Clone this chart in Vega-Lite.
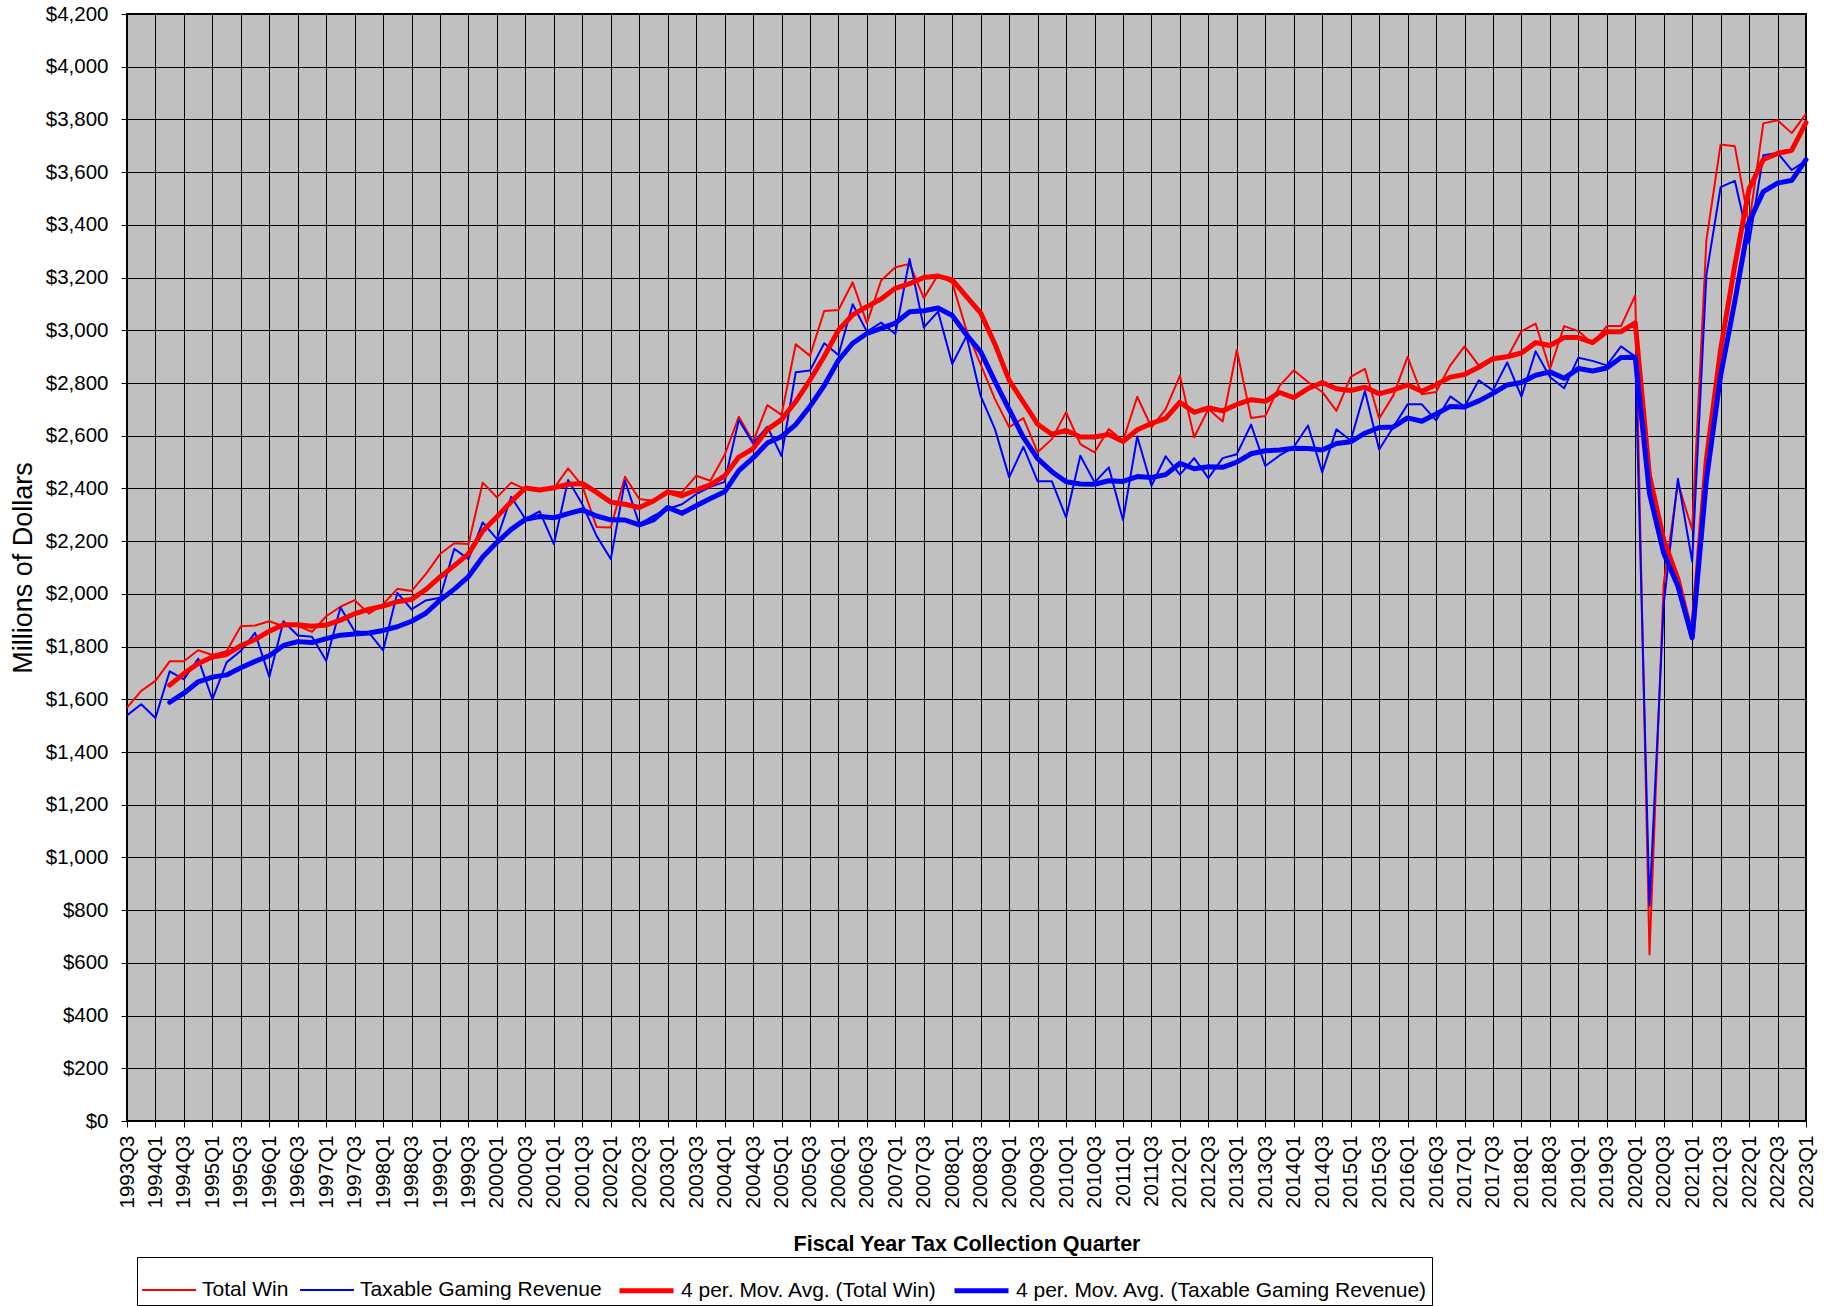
{
  "$schema": "https://vega.github.io/schema/vega-lite/v6.json",
  "width": 1679,
  "height": 1107,
  "autosize": {"type": "none"},
  "padding": {"left": 127, "top": 14, "right": 23, "bottom": 185},
  "background": "#FFFFFF",
  "data": {
    "values": [
      {"q": "1993Q3", "win": 1568, "tgr": 1539},
      {"q": "1993Q4", "win": 1632, "tgr": 1581},
      {"q": "1994Q1", "win": 1670, "tgr": 1529},
      {"q": "1994Q2", "win": 1744, "tgr": 1706},
      {"q": "1994Q3", "win": 1744, "tgr": 1676},
      {"q": "1994Q4", "win": 1786, "tgr": 1754},
      {"q": "1995Q1", "win": 1768, "tgr": 1600},
      {"q": "1995Q2", "win": 1782, "tgr": 1740},
      {"q": "1995Q3", "win": 1877, "tgr": 1784},
      {"q": "1995Q4", "win": 1880, "tgr": 1852},
      {"q": "1996Q1", "win": 1896, "tgr": 1685},
      {"q": "1996Q2", "win": 1877, "tgr": 1896},
      {"q": "1996Q3", "win": 1879, "tgr": 1842},
      {"q": "1996Q4", "win": 1856, "tgr": 1837},
      {"q": "1997Q1", "win": 1915, "tgr": 1746},
      {"q": "1997Q2", "win": 1951, "tgr": 1948},
      {"q": "1997Q3", "win": 1976, "tgr": 1858},
      {"q": "1997Q4", "win": 1925, "tgr": 1853},
      {"q": "1998Q1", "win": 1961, "tgr": 1786},
      {"q": "1998Q2", "win": 2019, "tgr": 2004},
      {"q": "1998Q3", "win": 2011, "tgr": 1941},
      {"q": "1998Q4", "win": 2075, "tgr": 1975},
      {"q": "1999Q1", "win": 2151, "tgr": 1985},
      {"q": "1999Q2", "win": 2192, "tgr": 2171},
      {"q": "1999Q3", "win": 2189, "tgr": 2132},
      {"q": "1999Q4", "win": 2422, "tgr": 2271},
      {"q": "2000Q1", "win": 2366, "tgr": 2208},
      {"q": "2000Q2", "win": 2422, "tgr": 2368},
      {"q": "2000Q3", "win": 2397, "tgr": 2284},
      {"q": "2000Q4", "win": 2390, "tgr": 2313},
      {"q": "2001Q1", "win": 2400, "tgr": 2189},
      {"q": "2001Q2", "win": 2476, "tgr": 2432},
      {"q": "2001Q3", "win": 2410, "tgr": 2340},
      {"q": "2001Q4", "win": 2254, "tgr": 2220},
      {"q": "2002Q1", "win": 2252, "tgr": 2132},
      {"q": "2002Q2", "win": 2444, "tgr": 2429},
      {"q": "2002Q3", "win": 2360, "tgr": 2265},
      {"q": "2002Q4", "win": 2353, "tgr": 2296},
      {"q": "2003Q1", "win": 2391, "tgr": 2322},
      {"q": "2003Q2", "win": 2385, "tgr": 2340},
      {"q": "2003Q3", "win": 2448, "tgr": 2378},
      {"q": "2003Q4", "win": 2429, "tgr": 2406},
      {"q": "2004Q1", "win": 2527, "tgr": 2425},
      {"q": "2004Q2", "win": 2672, "tgr": 2660},
      {"q": "2004Q3", "win": 2577, "tgr": 2571},
      {"q": "2004Q4", "win": 2716, "tgr": 2634},
      {"q": "2005Q1", "win": 2679, "tgr": 2523},
      {"q": "2005Q2", "win": 2947, "tgr": 2841},
      {"q": "2005Q3", "win": 2903, "tgr": 2847},
      {"q": "2005Q4", "win": 3073, "tgr": 2951},
      {"q": "2006Q1", "win": 3077, "tgr": 2906},
      {"q": "2006Q2", "win": 3182, "tgr": 3099},
      {"q": "2006Q3", "win": 3027, "tgr": 2995},
      {"q": "2006Q4", "win": 3189, "tgr": 3029},
      {"q": "2007Q1", "win": 3239, "tgr": 2986},
      {"q": "2007Q2", "win": 3252, "tgr": 3271},
      {"q": "2007Q3", "win": 3122, "tgr": 3011},
      {"q": "2007Q4", "win": 3210, "tgr": 3071},
      {"q": "2008Q1", "win": 3180, "tgr": 2872},
      {"q": "2008Q2", "win": 3000, "tgr": 2978},
      {"q": "2008Q3", "win": 2870, "tgr": 2750},
      {"q": "2008Q4", "win": 2739, "tgr": 2625},
      {"q": "2009Q1", "win": 2632, "tgr": 2442},
      {"q": "2009Q2", "win": 2667, "tgr": 2558},
      {"q": "2009Q3", "win": 2537, "tgr": 2427},
      {"q": "2009Q4", "win": 2587, "tgr": 2427},
      {"q": "2010Q1", "win": 2689, "tgr": 2290},
      {"q": "2010Q2", "win": 2568, "tgr": 2524},
      {"q": "2010Q3", "win": 2537, "tgr": 2423},
      {"q": "2010Q4", "win": 2625, "tgr": 2480},
      {"q": "2011Q1", "win": 2581, "tgr": 2280},
      {"q": "2011Q2", "win": 2748, "tgr": 2597},
      {"q": "2011Q3", "win": 2632, "tgr": 2410},
      {"q": "2011Q4", "win": 2701, "tgr": 2522},
      {"q": "2012Q1", "win": 2828, "tgr": 2452},
      {"q": "2012Q2", "win": 2594, "tgr": 2515},
      {"q": "2012Q3", "win": 2701, "tgr": 2439},
      {"q": "2012Q4", "win": 2654, "tgr": 2515},
      {"q": "2013Q1", "win": 2925, "tgr": 2530},
      {"q": "2013Q2", "win": 2667, "tgr": 2642},
      {"q": "2013Q3", "win": 2675, "tgr": 2485},
      {"q": "2013Q4", "win": 2789, "tgr": 2525},
      {"q": "2014Q1", "win": 2848, "tgr": 2557},
      {"q": "2014Q2", "win": 2804, "tgr": 2639},
      {"q": "2014Q3", "win": 2766, "tgr": 2462},
      {"q": "2014Q4", "win": 2694, "tgr": 2624},
      {"q": "2015Q1", "win": 2823, "tgr": 2582},
      {"q": "2015Q2", "win": 2854, "tgr": 2770},
      {"q": "2015Q3", "win": 2665, "tgr": 2548},
      {"q": "2015Q4", "win": 2753, "tgr": 2633},
      {"q": "2016Q1", "win": 2899, "tgr": 2719},
      {"q": "2016Q2", "win": 2757, "tgr": 2719},
      {"q": "2016Q3", "win": 2766, "tgr": 2658},
      {"q": "2016Q4", "win": 2867, "tgr": 2749},
      {"q": "2017Q1", "win": 2939, "tgr": 2711},
      {"q": "2017Q2", "win": 2867, "tgr": 2810},
      {"q": "2017Q3", "win": 2896, "tgr": 2772},
      {"q": "2017Q4", "win": 2896, "tgr": 2878},
      {"q": "2018Q1", "win": 2996, "tgr": 2748},
      {"q": "2018Q2", "win": 3025, "tgr": 2920},
      {"q": "2018Q3", "win": 2852, "tgr": 2823},
      {"q": "2018Q4", "win": 3016, "tgr": 2780},
      {"q": "2019Q1", "win": 2997, "tgr": 2896},
      {"q": "2019Q2", "win": 2949, "tgr": 2884},
      {"q": "2019Q3", "win": 3016, "tgr": 2867},
      {"q": "2019Q4", "win": 3016, "tgr": 2939},
      {"q": "2020Q1", "win": 3132, "tgr": 2900},
      {"q": "2020Q2", "win": 632, "tgr": 818},
      {"q": "2020Q3", "win": 2040, "tgr": 1960},
      {"q": "2020Q4", "win": 2420, "tgr": 2437},
      {"q": "2021Q1", "win": 2243, "tgr": 2123},
      {"q": "2021Q2", "win": 3342, "tgr": 3210},
      {"q": "2021Q3", "win": 3705, "tgr": 3543},
      {"q": "2021Q4", "win": 3698, "tgr": 3567},
      {"q": "2022Q1", "win": 3403, "tgr": 3330},
      {"q": "2022Q2", "win": 3785, "tgr": 3664},
      {"q": "2022Q3", "win": 3797, "tgr": 3673},
      {"q": "2022Q4", "win": 3748, "tgr": 3608},
      {"q": "2023Q1", "win": 3821, "tgr": 3644}
    ]
  },
  "layer": [
    {
      "transform": [
        {"fold": ["win", "tgr"], "as": ["series", "value"]}
      ],
      "mark": {"type": "line", "strokeJoin": "round"},
      "encoding": {
        "x": {"field": "q", "type": "ordinal"},
        "y": {"field": "value", "type": "quantitative"},
        "color": {"field": "series", "type": "nominal"},
        "strokeWidth": {"field": "series", "type": "nominal"}
      }
    },
    {
      "transform": [
        {
          "window": [
            {"op": "mean", "field": "win", "as": "ma_win"},
            {"op": "mean", "field": "tgr", "as": "ma_tgr"},
            {"op": "row_number", "as": "rn"}
          ],
          "frame": [-3, 0],
          "sort": [{"field": "q", "order": "ascending"}]
        },
        {"filter": "datum.rn >= 4"},
        {"fold": ["ma_win", "ma_tgr"], "as": ["series", "value"]}
      ],
      "mark": {"type": "line", "strokeJoin": "round", "strokeCap": "round"},
      "encoding": {
        "x": {"field": "q", "type": "ordinal"},
        "y": {"field": "value", "type": "quantitative"},
        "color": {"field": "series", "type": "nominal"},
        "strokeWidth": {"field": "series", "type": "nominal"}
      }
    }
  ],
  "resolve": {"scale": {"x": "shared", "y": "shared", "color": "shared", "strokeWidth": "shared"}},
  "encoding": {
    "x": {
      "field": "q",
      "type": "ordinal",
      "scale": {"type": "point", "padding": 0},
      "axis": {
        "title": "Fiscal Year Tax Collection Quarter",
        "titleFontSize": 21.5,
        "titleFontWeight": "bold",
        "titlePadding": 26,
        "labelAngle": -90,
        "labelFontSize": 20.5,
        "labelPadding": 8,
        "tickSize": 6,
        "labelOverlap": false,
        "labelFlush": false,
        "grid": true,
        "values": ["1993Q3","1994Q1","1994Q3","1995Q1","1995Q3","1996Q1","1996Q3","1997Q1","1997Q3","1998Q1","1998Q3","1999Q1","1999Q3","2000Q1","2000Q3","2001Q1","2001Q3","2002Q1","2002Q3","2003Q1","2003Q3","2004Q1","2004Q3","2005Q1","2005Q3","2006Q1","2006Q3","2007Q1","2007Q3","2008Q1","2008Q3","2009Q1","2009Q3","2010Q1","2010Q3","2011Q1","2011Q3","2012Q1","2012Q3","2013Q1","2013Q3","2014Q1","2014Q3","2015Q1","2015Q3","2016Q1","2016Q3","2017Q1","2017Q3","2018Q1","2018Q3","2019Q1","2019Q3","2020Q1","2020Q3","2021Q1","2021Q3","2022Q1","2022Q3","2023Q1"]
      }
    },
    "y": {
      "field": "value",
      "type": "quantitative",
      "scale": {"domain": [0, 4200], "nice": false, "zero": true},
      "axis": {
        "title": "Millions of Dollars",
        "titleFontSize": 27,
        "titleFontWeight": "normal",
        "titlePadding": 8,
        "labelFontSize": 20.5,
        "labelPadding": 13,
        "tickSize": 6,
        "format": "$,.0f",
        "grid": true,
        "values": [0,200,400,600,800,1000,1200,1400,1600,1800,2000,2200,2400,2600,2800,3000,3200,3400,3600,3800,4000,4200]
      }
    },
    "color": {
      "field": "series",
      "type": "nominal",
      "scale": {
        "domain": ["win", "tgr", "ma_win", "ma_tgr"],
        "range": ["#FF0000", "#0000FF", "#FF0000", "#0000FF"]
      },
      "legend": {
        "orient": "none",
        "legendX": 10,
        "legendY": 1243,
        "direction": "horizontal",
        "title": null,
        "symbolType": "stroke",
        "symbolSize": 2916,
        "labelFontSize": 21,
        "labelFont": "Liberation Sans",
        "labelColor": "#000000",
        "labelLimit": 800,
        "labelOffset": 5,
        "columnPadding": 7,
        "padding": 4,
        "strokeColor": "#000000",
        "labelExpr": "datum.label == 'win' ? 'Total Win' : datum.label == 'tgr' ? 'Taxable Gaming Revenue' : datum.label == 'ma_win' ? '4 per. Mov. Avg. (Total Win)' : '4 per. Mov. Avg. (Taxable Gaming Revenue)'"
      }
    },
    "strokeWidth": {
      "field": "series",
      "type": "nominal",
      "scale": {
        "type": "ordinal",
        "domain": ["win", "tgr", "ma_win", "ma_tgr"],
        "range": [2, 2, 5, 5]
      },
      "legend": {
        "orient": "none",
        "legendX": 10,
        "legendY": 1243,
        "direction": "horizontal",
        "title": null,
        "symbolType": "stroke",
        "symbolSize": 2916,
        "labelFontSize": 21,
        "labelFont": "Liberation Sans",
        "labelColor": "#000000",
        "labelLimit": 800,
        "labelOffset": 5,
        "columnPadding": 7,
        "padding": 4,
        "strokeColor": "#000000",
        "labelExpr": "datum.label == 'win' ? 'Total Win' : datum.label == 'tgr' ? 'Taxable Gaming Revenue' : datum.label == 'ma_win' ? '4 per. Mov. Avg. (Total Win)' : '4 per. Mov. Avg. (Taxable Gaming Revenue)'"
      }
    }
  },
  "config": {
    "font": "Liberation Sans",
    "view": {"fill": "#C0C0C0", "stroke": "#000000", "strokeWidth": 2},
    "axis": {
      "labelFont": "Liberation Sans",
      "titleFont": "Liberation Sans",
      "labelColor": "#000000",
      "titleColor": "#000000",
      "domain": false,
      "tickColor": "#000000",
      "gridColor": "#000000",
      "gridOpacity": 1,
      "gridWidth": 1
    }
  }
}
